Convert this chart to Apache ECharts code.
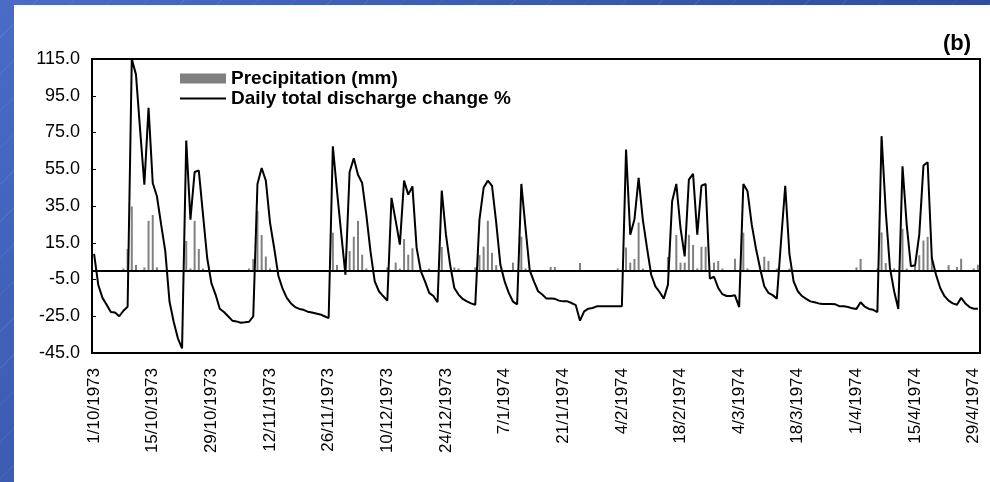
<!DOCTYPE html>
<html><head><meta charset="utf-8">
<script src="https://cdn.jsdelivr.net/npm/echarts@6/dist/echarts.min.js"></script>
<style>
html,body{margin:0;padding:0;width:990px;height:482px;overflow:hidden;}
body{background:
 repeating-linear-gradient(135deg, rgba(255,255,255,0.07) 0px, rgba(255,255,255,0.07) 1px, transparent 1px, transparent 26px),
 linear-gradient(135deg,#4a6cc6 0%,#3553a8 50%,#2a4190 100%);}
#chart{position:absolute;left:14px;top:5px;width:976px;height:477px;background:#fff;}
</style></head>
<body><div id="chart"></div>
<script>
// Daily categories: 1/10/1973 .. 30/4/1974 (212 days)
const dates = [];
for (let i = 0; i < 212; i++) {
  const d = new Date(Date.UTC(1973, 9, 1 + i));
  dates.push(d.getUTCDate() + '/' + (d.getUTCMonth() + 1) + '/' + d.getUTCFullYear());
}

const yTicks = [-45, -25, -5, 15, 35, 55, 75, 95, 115];

const discharge = [
  9, -8, -15, -18.7, -22.7, -23, -25, -22, -19.8, 115,
  106.5, 76, 46.6, 88.4, 47.5, 40.3, 25, 10.3, -17, -28,
  -37, -42.5, 70.6, 27.6, 53.5, 54.3, 30.3, 6.7, -7, -13.2,
  -20.9, -22.7, -25, -27.4, -27.8, -28.5, -28.3, -28, -25, 47,
  55.7, 48.8, 26, 12, -3, -10, -15, -18, -20, -21,
  -21.5, -22.5, -23, -23.5, -24, -25, -26, 67.5, 43, 20,
  -2.4, 53.5, 61, 52, 47.5, 30, 10, -6, -11.4, -14,
  -16.5, 39.4, 27, 14, 48.8, 41.2, 45.7, 12.2, -0.5, -6,
  -12.3, -14, -17.4, 43.4, 19.4, 3, -9.6, -13.2, -15.6, -16.9,
  -18, -18.7, 27.6, 45, 48.8, 46, 26, 3, -6, -12.3,
  -17, -18.5, 47, 23, 0, -6, -11.4, -13.2, -15.4, -15.4,
  -15.5, -16.5, -16.9, -16.9, -17.8, -19, -27.4, -22.3, -20.9, -20.5,
  -19.6, -19.6, -19.6, -19.6, -19.6, -19.6, -19.6, 65.7, 19.4, 27.6,
  50.3, 27.6, 12.2, -2.4, -8.7, -11.8, -15.4, -7.8, 37.6, 47,
  23, 7.6, 49.4, 52.5, 19.4, 46, 47, -4.5, -3.5, -9.6,
  -13, -14, -14, -13.6, -20, 47, 43, 25, 12, 1,
  -8.7, -12.3, -13.5, -15.4, 15.8, 46, 8.9, -6, -11.4, -14,
  -15.5, -16.9, -17.4, -18, -18.3, -18.3, -18.3, -18.5, -19.6, -19.6,
  -20, -20.7, -21, -17.4, -19.8, -21, -21.5, -22.7, 73, 32,
  1.3, -11.4, -21, 56.6, 24.9, 2.2, 2.7, 19.4, 57, 58.8,
  6.7, -2.4, -9.6, -14, -16.5, -18, -18.7, -15, -18, -20,
  -20.9, -20.9
];

const precipitation = [
  0, 0, 0, 0, 0, 0, 0, 1, 11.6, 34.7,
  2.9, 0, 1.6, 26.9, 30.1, 1.6, 0, 0, 0, 0,
  0, 0, 16, 1, 26.9, 11.6, 1, 0, 0, 0,
  0, 0, 0, 0, 0, 0, 0, 1, 6.2, 32.3,
  19.2, 7.5, 1, 0, 0, 0, 0, 0, 0, 0,
  0, 0, 0, 0, 0, 0, 0, 20.5, 2.9, 0,
  0, 10.5, 18.3, 26.9, 8.5, 1, 0, 0, 0, 0,
  1.6, 0, 4.2, 1, 17, 8.5, 12, 0, 0, 0,
  1, 0, 0, 12.7, 0, 0, 1.6, 1, 0, 0,
  0, 1.6, 8.3, 12.9, 27, 9.5, 2.8, 0, 0, 0,
  4.2, 0, 18.3, 1, 0, 0, 0, 0, 0, 1.8,
  1.8, 0, 0, 0, 0, 0, 4, 0, 0, 0,
  0, 0, 0, 0, 0, 1, 0, 12.4, 4.2, 6.2,
  26, 1, 0, 0, 0, 0, 0, 7.3, 0, 19.2,
  4.2, 4.2, 19.3, 13.8, 1, 12.8, 12.8, 0, 4.2, 5.1,
  1, 0, 0, 6.3, 0, 20.5, 1, 0, 0, 0,
  7.4, 5.1, 0, 1, 0, 0, 1, 0, 0, 0,
  0, 0, 0, 0, 0, 0, 0, 0, 0, 0,
  0, 0, 1.6, 6.2, 0, 0, 0, 1, 20.6, 4,
  0, 1, 0, 22.6, 1, 0, 2.5, 8.2, 16.2, 18.2,
  7, 0, 0, 0, 2.8, 0, 1.8, 6.3, 0, 0,
  1, 3
];

const FONT = '"Liberation Sans", Arial, Helvetica, sans-serif';
const chart = echarts.init(document.getElementById('chart'), null, {renderer: 'canvas'});
chart.setOption({
  animation: false,
  backgroundColor: '#ffffff',
  textStyle: {fontFamily: FONT},
  title: {
    text: '(b)', right: 14, top: 23,
    textStyle: {fontSize: 22, fontWeight: 'bold', color: '#000', fontFamily: FONT}
  },
  legend: {
    orient: 'vertical', left: 160, top: 59,
    itemWidth: 46, itemHeight: 10, itemGap: 1,
    textStyle: {fontSize: 19, fontWeight: 'bold', color: '#000', fontFamily: FONT, lineHeight: 19},
    data: [
      {name: 'Precipitation (mm)', icon: 'rect'},
      {name: 'Daily total discharge change %', itemStyle: {opacity: 0}, lineStyle: {color: '#000', width: 2, opacity: 1}}
    ]
  },
  grid: {left: 78, top: 54, right: 10, bottom: 129, show: true, borderColor: '#000', borderWidth: 2, backgroundColor: '#fff'},
  xAxis: {
    type: 'category', data: dates, boundaryGap: true,
    axisLine: {show: true, onZero: false, lineStyle: {color: '#000', width: 2}},
    axisTick: {show: false},
    axisLabel: {interval: 13, rotate: 90, margin: 15, fontSize: 17, color: '#000', fontFamily: FONT},
    splitLine: {show: false}
  },
  yAxis: {
    type: 'value', min: -45, max: 115, interval: 20,
    axisLine: {show: true, lineStyle: {color: '#000', width: 2}},
    axisTick: {show: true, inside: true, length: 4, lineStyle: {color: '#000'}, customValues: yTicks},
    axisLabel: {fontSize: 18, color: '#000', margin: 12, fontFamily: FONT, customValues: yTicks,
      formatter: v => Number(v).toFixed(1)},
    splitLine: {show: false}
  },
  series: [
    {
      name: 'Precipitation (mm)', type: 'bar', data: precipitation, barWidth: 2,
      itemStyle: {color: '#808080'}, z: 2
    },
    {
      name: 'Daily total discharge change %', type: 'line', data: discharge,
      symbol: 'none', lineStyle: {color: '#000', width: 2}, itemStyle: {color: '#000'}, z: 3,
      markLine: {
        silent: true, symbol: ['none', 'none'], label: {show: false},
        lineStyle: {color: '#000', width: 2, type: 'solid'},
        data: [{yAxis: 0}]
      }
    }
  ]
});
</script></body></html>
